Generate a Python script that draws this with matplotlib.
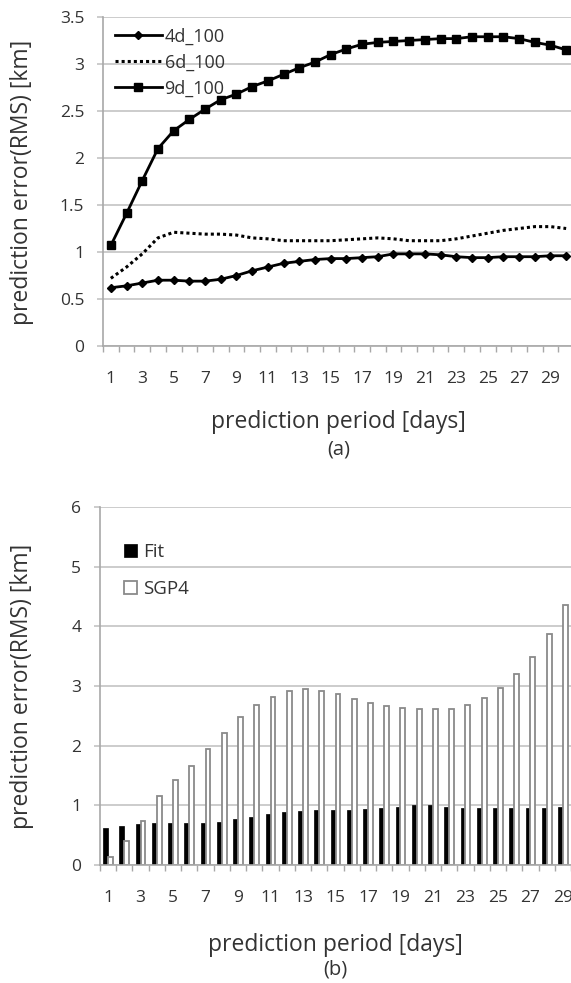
import matplotlib
matplotlib.use("Agg")
import matplotlib.pyplot as plt
import numpy as np

plt.rcParams['font.family'] = ['Open Sans', 'DejaVu Sans']

# ---- data: (a) RMS prediction error for three fit spans ----
days_a = list(range(1, 31))
err_4d = [0.62, 0.64, 0.67, 0.70, 0.70, 0.69, 0.69, 0.71, 0.75, 0.80,
          0.84, 0.88, 0.90, 0.92, 0.93, 0.93, 0.94, 0.95, 0.98, 0.98,
          0.98, 0.97, 0.95, 0.94, 0.94, 0.95, 0.95, 0.95, 0.96, 0.96]
err_6d = [0.72, 0.84, 0.98, 1.15, 1.21, 1.20, 1.19, 1.19, 1.18, 1.15,
          1.14, 1.12, 1.12, 1.12, 1.12, 1.13, 1.14, 1.15, 1.14, 1.12,
          1.12, 1.12, 1.14, 1.17, 1.20, 1.23, 1.25, 1.27, 1.27, 1.25]
err_9d = [1.07, 1.41, 1.76, 2.10, 2.29, 2.41, 2.52, 2.62, 2.68, 2.76,
          2.82, 2.89, 2.96, 3.02, 3.10, 3.16, 3.21, 3.23, 3.24, 3.25,
          3.26, 3.27, 3.27, 3.29, 3.29, 3.29, 3.27, 3.23, 3.20, 3.15]
labels_a = ['4d_100', '6d_100', '9d_100']

# ---- data: (b) fitted model vs SGP4 ----
days_b = list(range(1, 30))
err_fit = [0.62, 0.65, 0.69, 0.71, 0.71, 0.71, 0.71, 0.72, 0.77, 0.81,
           0.85, 0.89, 0.91, 0.92, 0.93, 0.93, 0.94, 0.96, 0.98, 1.00,
           1.00, 0.98, 0.96, 0.95, 0.95, 0.96, 0.96, 0.96, 0.98]
err_sgp4 = [0.14, 0.41, 0.74, 1.16, 1.42, 1.66, 1.94, 2.22, 2.48, 2.68,
            2.82, 2.92, 2.95, 2.91, 2.86, 2.78, 2.72, 2.66, 2.63, 2.61,
            2.61, 2.62, 2.68, 2.80, 2.96, 3.20, 3.49, 3.87, 4.35]
labels_b = ['Fit', 'SGP4']

W, H = 571, 983
fig = plt.figure(figsize=(W / 100, H / 100), dpi=100)

GRID = '#c4c4c4'
AXIS = '#a8a8a8'
TXT = '#333333'
TICK_FS = 12.5
LABEL_FS = 16.5


def px_box(left, right, top, bottom):
    return [left / W, 1 - bottom / H, (right - left) / W, (bottom - top) / H]


def style_axes(ax, ymax, ystep, n):
    ax.set_ylim(0, ymax)
    ax.set_yticks(np.arange(0, ymax + 1e-9, ystep))
    ax.yaxis.grid(True, color=GRID, lw=1.2)
    ax.set_axisbelow(True)
    for s in ['top', 'right']:
        ax.spines[s].set_visible(False)
    for s in ['left', 'bottom']:
        ax.spines[s].set_color(AXIS)
        ax.spines[s].set_linewidth(1.2)
    ax.set_xticks(range(1, n + 1, 2))
    ax.set_xticks(np.arange(0.5, n + 0.51, 1), minor=True)
    ax.tick_params(axis='x', which='major', length=0, pad=18,
                   labelsize=TICK_FS, labelcolor=TXT)
    ax.tick_params(axis='x', which='minor', length=4.5, width=1,
                   color=AXIS, direction='out')
    ax.tick_params(axis='y', length=4.5, width=1.2, color=GRID,
                   pad=9, labelsize=TICK_FS, labelcolor=TXT)
    ax.yaxis.set_major_formatter(
        matplotlib.ticker.FuncFormatter(lambda v, p: f'{v:g}'))


# ---------------- (a) line chart ----------------
ax1 = fig.add_axes(px_box(103, 574, 17, 346))
ax1.plot(days_a, err_4d, color='black', lw=2, marker='D', ms=3.8,
         label=labels_a[0])
ax1.plot(days_a, err_6d, color='black', lw=2.2, ls=(0, (1, 1)),
         label=labels_a[1])
ax1.plot(days_a, err_9d, color='black', lw=2, marker='s', ms=6,
         label=labels_a[2])
ax1.set_xlim(0.5, 30.5)
style_axes(ax1, 3.5, 0.5, 30)
ax1.legend(loc='upper left', bbox_to_anchor=(0.01, 0.99), frameon=False,
           fontsize=13, handlelength=2.6, handletextpad=0.15,
           labelspacing=0.45, borderaxespad=0, labelcolor=TXT)
ax1.text(0.5, -0.195, 'prediction period [days]', transform=ax1.transAxes,
         ha='center', va='top', fontsize=LABEL_FS, color=TXT)
ax1.text(0.5, -0.285, '(a)', transform=ax1.transAxes,
         ha='center', va='top', fontsize=14.5, color=TXT)
fig.text(22 / W, 1 - 182 / H, 'prediction error(RMS) [km]', rotation=90,
         ha='center', va='center', fontsize=LABEL_FS, color=TXT)

# ---------------- (b) bar chart ----------------
ax2 = fig.add_axes(px_box(100, 571, 507, 865))
bw = 0.3
ax2.bar(days_b, err_fit, width=-bw, align='edge', color='black',
        edgecolor='black', lw=0.5, label=labels_b[0])
ax2.bar(days_b, err_sgp4, width=bw, align='edge', color='white',
        edgecolor='#8a8a8a', lw=1.3, label=labels_b[1])
ax2.set_xlim(0.5, 29.5)
style_axes(ax2, 6, 1, 29)
ax2.legend(loc='upper left', bbox_to_anchor=(0.035, 0.92), frameon=False,
           fontsize=13.5, handlelength=0.7, handleheight=0.7,
           handletextpad=0.3, labelspacing=1.0, borderaxespad=0,
           labelcolor=TXT)
ax2.text(0.5, -0.19, 'prediction period [days]', transform=ax2.transAxes,
         ha='center', va='top', fontsize=LABEL_FS, color=TXT)
ax2.text(0.5, -0.265, '(b)', transform=ax2.transAxes,
         ha='center', va='top', fontsize=14.5, color=TXT)
fig.text(22 / W, 1 - 686 / H, 'prediction error(RMS) [km]', rotation=90,
         ha='center', va='center', fontsize=LABEL_FS, color=TXT)

fig.savefig('out.png', dpi=100, facecolor='white')
